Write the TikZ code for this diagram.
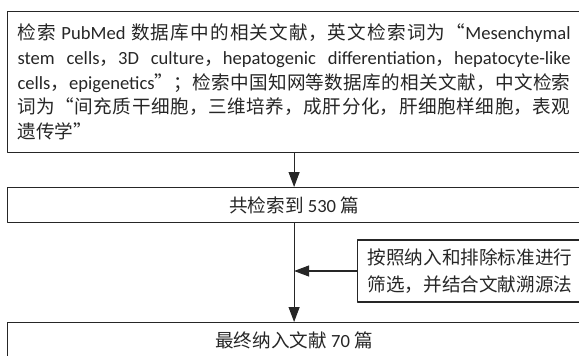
\documentclass[tikz,border=0pt]{standalone}
\usepackage{fontspec}
\setmainfont{Carlito}
\newfontfamily\cjk{Noto Sans CJK SC}
\usetikzlibrary{arrows.meta,positioning}
\XeTeXlinebreaklocale "zh"
\XeTeXlinebreakskip=0pt plus 1pt

\begin{document}
\begin{tikzpicture}[x=0.5pt, y=-0.5pt, line join=round,
    box/.style={draw=black!85, line width=0.6pt, inner xsep=5pt, inner ysep=0pt, text=black!85,
                font=\fontsize{9.3pt}{12pt}\selectfont},
    link/.style={-{Triangle[length=7.5pt,width=5.5pt]}, line width=0.55pt, draw=black!85}]
  % canvas (right border of the boxes is cut off)
  \useasboundingbox (0,0) rectangle (579,355);
  \clip (0,0) rectangle (579,355);

  % search terms
  \node[box, anchor=north west, text width=276.5pt, minimum height=70.5pt, align=justify,
        font=\fontsize{9.3pt}{12.35pt}\selectfont] (query) at (7,11)
    {{\cjk 检索} PubMed {\cjk 数据库中的相关文献，英文检索词为“}Mesenchymal\linebreak
     stem cells{\cjk ，}3D culture{\cjk ，}hepatogenic differentiation{\cjk ，}hepatocyte-like\linebreak
     cells{\cjk ，}epigenetics{\cjk ”；检索中国知网等数据库的相关文献，中文检索}\linebreak
     {\cjk 词为“间充质干细胞，三维培养，成肝分化，肝细胞样细胞，表观}\linebreak
     {\cjk 遗传学”}};

  % records found
  \node[box, anchor=north west, minimum width=286.5pt, minimum height=17.5pt] (found) at (7,187)
    {{\cjk 共检索到} 530 {\cjk 篇}};

  % screening note
  \node[box, anchor=west, minimum height=31pt, align=left,
        font=\fontsize{9.3pt}{13.3pt}\selectfont] (screen) at (357,271)
    {{\cjk 按照纳入和排除标准进行}\\{\cjk 筛选，并结合文献溯源法}};

  % included
  \node[box, anchor=north west, minimum width=286.5pt, minimum height=17.5pt] (final) at (7,322)
    {{\cjk 最终纳入文献} 70 {\cjk 篇}};

  % connectors
  \draw[link] (query) -- (found);
  \draw[link] (found) -- (final);
  \draw[link] (screen.west) -- (screen.west -| found.south);
\end{tikzpicture}
\end{document}
